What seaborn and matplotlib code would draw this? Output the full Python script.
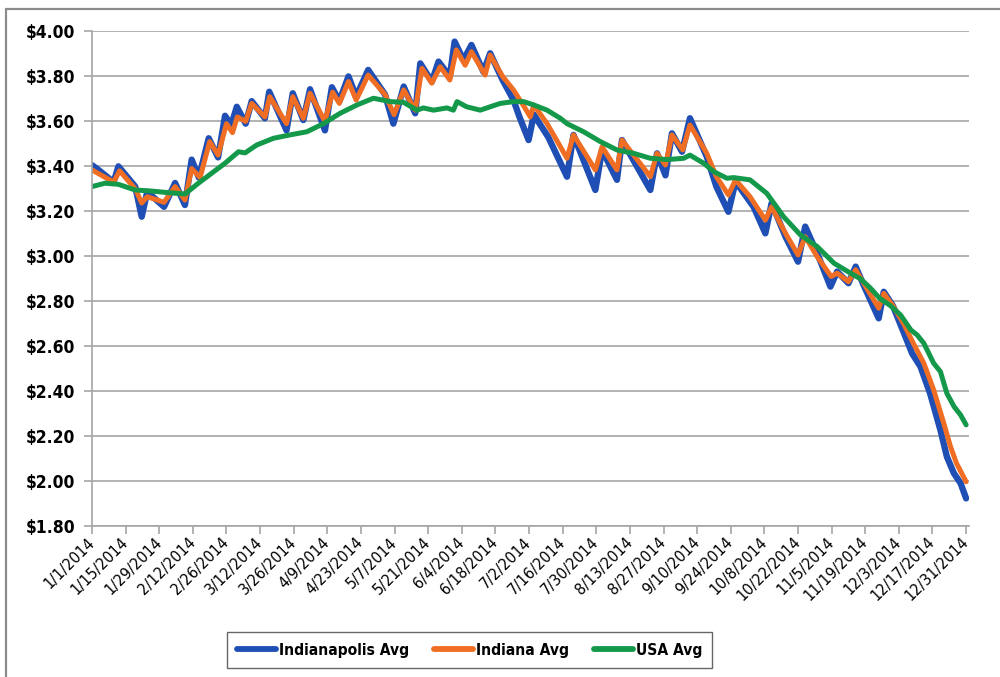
import numpy as np
import pandas as pd
import matplotlib
matplotlib.use("Agg")
import matplotlib.pyplot as plt
from matplotlib import font_manager
from matplotlib.lines import Line2D
import seaborn as sns

# ---- data (day offsets from 1 Jan 2014, price in $/gal) ----
indy_day = [0, 2, 9, 11, 18, 20.7, 23, 30, 34.6, 38.7, 41.5, 44.5, 48.6, 52.5, 55.4, 58, 60.3, 64, 66.5, 72,
            73.8, 81, 83.6, 88, 90.8, 97, 99.9, 103, 106.8, 110, 115, 122, 125.5, 129.8, 134.6, 136.7, 141.5,
            144.3, 149, 151, 154.7, 158, 163, 165.8, 171, 175.5, 178, 181.8, 184, 190, 197.8, 200.5, 209.6,
            212.4, 218.6, 220.7, 232.5, 235.3, 238.8, 241.5, 245.7, 249, 256, 260, 265, 268, 275.5, 280.4, 283,
            288.8, 294, 297, 302, 307.5, 310.3, 315, 318, 321.4, 327.6, 329.7, 333.5, 337.6, 341.5, 345, 349,
            353.3, 356, 358.9, 361.7, 364]
indy_val = [3.405, 3.39, 3.33, 3.40, 3.31, 3.176, 3.287, 3.22, 3.326, 3.228, 3.43, 3.35, 3.525, 3.44, 3.625,
            3.584, 3.665, 3.59, 3.69, 3.614, 3.732, 3.56, 3.725, 3.606, 3.743, 3.56, 3.752, 3.69, 3.80, 3.71,
            3.829, 3.72, 3.59, 3.755, 3.636, 3.858, 3.777, 3.866, 3.80, 3.955, 3.873, 3.94, 3.82, 3.903, 3.784,
            3.695, 3.62, 3.517, 3.63, 3.53, 3.354, 3.54, 3.295, 3.473, 3.34, 3.517, 3.295, 3.458, 3.36, 3.547,
            3.465, 3.614, 3.443, 3.31, 3.198, 3.332, 3.22, 3.102, 3.236, 3.087, 2.976, 3.132, 3.013, 2.865,
            2.932, 2.88, 2.954, 2.87, 2.724, 2.842, 2.78, 2.672, 2.568, 2.509, 2.39, 2.227, 2.108, 2.035, 1.99,
            1.923]

ind_day = [0, 9, 11.5, 18, 20.7, 23, 30, 34.6, 38.7, 41.5, 45, 49, 52.5, 56, 58.5, 60.5, 64, 66.5, 72, 74, 81,
           83.6, 88, 90.8, 97, 100.2, 103, 106.8, 110, 115, 122, 125.8, 129.8, 134.6, 137.4, 141.5, 145, 149,
           151.7, 155.4, 158, 163.7, 165.8, 171, 175.5, 180, 182.5, 184, 189.5, 197.8, 200.5, 209.6, 212.4,
           218.6, 220.7, 232.5, 235.3, 238.8, 241.5, 246, 249, 256, 260, 265, 268, 274, 280.4, 283, 288.8, 294,
           297, 302, 307.8, 310.3, 315, 318, 321.4, 327.6, 329.7, 333.5, 338, 342, 346.4, 350.5, 354.7, 357.5,
           360, 364]
ind_val = [3.384, 3.33, 3.38, 3.30, 3.237, 3.265, 3.24, 3.31, 3.25, 3.39, 3.35, 3.51, 3.45, 3.59, 3.55, 3.62,
           3.60, 3.68, 3.62, 3.71, 3.59, 3.71, 3.614, 3.725, 3.60, 3.73, 3.68, 3.777, 3.695, 3.806, 3.72, 3.63,
           3.74, 3.65, 3.836, 3.77, 3.843, 3.784, 3.918, 3.85, 3.91, 3.806, 3.895, 3.80, 3.74, 3.665, 3.62,
           3.673, 3.59, 3.436, 3.54, 3.384, 3.487, 3.384, 3.517, 3.354, 3.458, 3.406, 3.54, 3.473, 3.584, 3.458,
           3.354, 3.273, 3.34, 3.265, 3.161, 3.22, 3.102, 3.006, 3.087, 2.998, 2.91, 2.925, 2.887, 2.94, 2.88,
           2.769, 2.835, 2.78, 2.70, 2.613, 2.524, 2.405, 2.257, 2.153, 2.079, 1.997]

usa_day = [0, 5.4, 11, 17.9, 24.9, 31.8, 38.75, 44.3, 49.9, 55.4, 61, 63.75, 68.6, 75.6, 82.5, 89.5, 96.4, 103.3,
           110.3, 117.2, 124.2, 129.7, 135.3, 138, 142.2, 147.8, 150.5, 152, 156, 161.7, 165.8, 170, 175.5,
           179.7, 184, 189.5, 195, 197.8, 204.7, 211.7, 218.6, 225.5, 232.5, 239.5, 246.4, 249, 254.7, 259,
           264.4, 267.2, 274, 281, 288, 295, 302, 309, 316, 320, 324, 328, 332.5, 336.7, 341, 343.6, 346.4,
           350.5, 353.3, 356, 359, 361.7, 364]
usa_val = [3.31, 3.325, 3.32, 3.295, 3.29, 3.283, 3.277, 3.325, 3.37, 3.414, 3.465, 3.46, 3.495, 3.525, 3.54,
           3.554, 3.59, 3.636, 3.673, 3.703, 3.688, 3.685, 3.65, 3.66, 3.65, 3.66, 3.65, 3.688, 3.665, 3.65,
           3.665, 3.68, 3.688, 3.688, 3.673, 3.65, 3.614, 3.59, 3.554, 3.51, 3.473, 3.458, 3.436, 3.43, 3.436,
           3.45, 3.414, 3.376, 3.347, 3.35, 3.34, 3.28, 3.176, 3.095, 3.043, 2.969, 2.924, 2.90, 2.86, 2.813,
           2.78, 2.739, 2.672, 2.65, 2.613, 2.524, 2.487, 2.39, 2.331, 2.294, 2.25]

series_names = ["Indianapolis Avg", "Indiana Avg", "USA Avg"]
y_ticks = [1.80, 2.00, 2.20, 2.40, 2.60, 2.80, 3.00, 3.20, 3.40, 3.60, 3.80, 4.00]
x_tick_days = list(range(0, 365, 14))
start_date = pd.Timestamp("2014-01-01")

# ---- style ----
sns.set_theme(style="white")
avail = {f.name for f in font_manager.fontManager.ttflist}
narrow = "Liberation Sans Narrow" if "Liberation Sans Narrow" in avail else "DejaVu Sans"
stretch = "normal" if narrow == "Liberation Sans Narrow" else "condensed"
plt.rcParams["font.family"] = [narrow, "DejaVu Sans"]
plt.rcParams["text.color"] = "black"

colors = {"Indianapolis Avg": "#1f4eb4", "Indiana Avg": "#ef6e24", "USA Avg": "#14994a"}
widths = {"Indianapolis Avg": 4.6, "Indiana Avg": 3.6, "USA Avg": 3.6}

fig = plt.figure(figsize=(10, 6.77), dpi=100)
ax = fig.add_axes([0.092, 0.223, 0.877, 0.7305])

frames = {
    "Indianapolis Avg": pd.DataFrame({"day": indy_day, "price": indy_val}),
    "Indiana Avg": pd.DataFrame({"day": ind_day, "price": ind_val}),
    "USA Avg": pd.DataFrame({"day": usa_day, "price": usa_val}),
}
for name in series_names:
    sns.lineplot(data=frames[name], x="day", y="price", ax=ax, color=colors[name],
                 linewidth=widths[name], estimator=None, label=name,
                 solid_capstyle="round", solid_joinstyle="round")

ax.set_xlim(0, 365.2)
ax.set_ylim(1.80, 4.00)
ax.set_yticks(y_ticks)
ax.set_yticklabels([f"${v:.2f}" for v in y_ticks], fontsize=12.5, fontweight="bold",
                   fontstretch=stretch, color="black")
ax.set_xticks(x_tick_days)
labels = []
for d in x_tick_days:
    dt = start_date + pd.Timedelta(days=d)
    labels.append(f"{dt.month}/{dt.day}/{dt.year}")
ax.set_xticklabels(labels, rotation=45, ha="right", va="center", rotation_mode="anchor",
                   fontsize=11.5, fontstretch=stretch, color="black")
ax.set_xlabel("")
ax.set_ylabel("")

ax.grid(axis="y", color="#a6a6a6", linewidth=1.2)
ax.grid(axis="x", visible=False)
for s in ["top", "right"]:
    ax.spines[s].set_visible(False)
for s in ["left", "bottom"]:
    ax.spines[s].set_color("#a6a6a6")
    ax.spines[s].set_linewidth(1.2)
ax.tick_params(axis="y", which="major", left=True, length=6, width=1.2, color="#a6a6a6",
               pad=6, labelcolor="black")
ax.tick_params(axis="x", which="major", bottom=True, length=6, width=1.2, color="#a6a6a6",
               pad=4, labelcolor="black")

ax.get_legend().remove()
handles = [Line2D([0], [0], color=colors[n], linewidth=4.2, solid_capstyle="round") for n in series_names]
leg = fig.legend(handles, series_names, loc="center", bbox_to_anchor=(0.4695, 1 - 650 / 677), ncol=3,
                 frameon=True, fancybox=False, edgecolor="#404040", handlelength=2.5,
                 handletextpad=0.2, columnspacing=1.6, borderpad=0.65, labelcolor="black",
                 prop={"weight": "bold", "size": 11.2, "stretch": stretch})
leg.get_frame().set_linewidth(1.0)

# outer frame (top and left edges of the chart box)
fig.add_artist(Line2D([0.006, 1.0], [1 - 9 / 677, 1 - 9 / 677], transform=fig.transFigure,
                      color="#8c8c8c", linewidth=1.6))
fig.add_artist(Line2D([0.006, 0.006], [0, 1 - 9 / 677], transform=fig.transFigure,
                      color="#8c8c8c", linewidth=1.6))

fig.savefig("out.png", dpi=100)
